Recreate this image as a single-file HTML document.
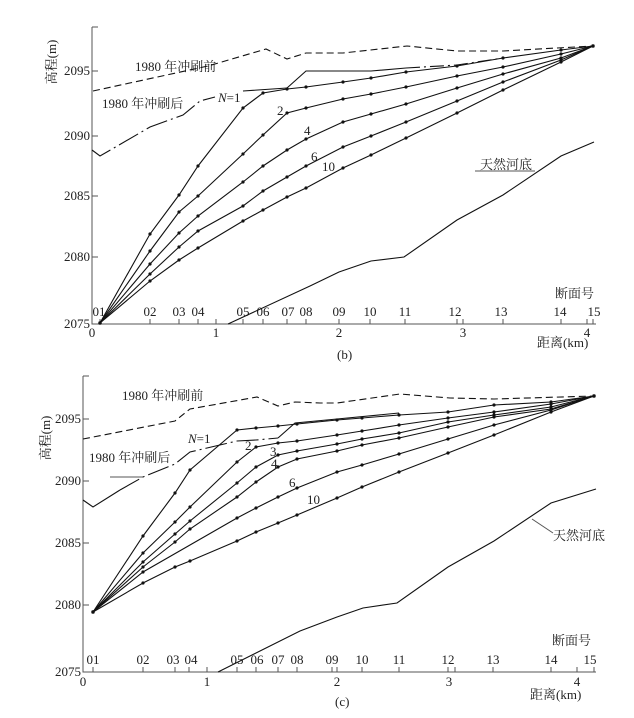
<!DOCTYPE html>
<html><head><meta charset="utf-8"><style>
html,body{margin:0;padding:0;background:#fff;}
svg{display:block;}
text{font-family:"Liberation Serif","Noto Serif CJK SC",serif;font-size:13px;fill:#222;}
.l{fill:none;stroke:#111;stroke-width:1.1;}
.d{marker-start:url(#m);marker-mid:url(#m);marker-end:url(#m);}
.ax{stroke:#555;stroke-width:1;fill:none;}
</style></head><body>
<svg width="634" height="718" viewBox="0 0 634 718" xmlns="http://www.w3.org/2000/svg">
<defs><marker id="m" markerWidth="4" markerHeight="4" refX="2" refY="2" markerUnits="userSpaceOnUse"><circle cx="2" cy="2" r="1.6" fill="#111"/></marker></defs>

<!-- ===== (b) ===== -->
<path class="ax" d="M92,27 V324 H596 M92,71 h6 M92,136 h6 M92,196 h6 M92,257 h6 M92,27 h6"/>
<path class="ax" d="M100,324v-5M150,324v-5M179,324v-5M198,324v-5M216,324v-5M243,324v-5M263,324v-5M287,324v-5M306,324v-5M339,324v-5M370,324v-5M405,324v-5M457,324v-5M463,324v-5M503,324v-5M561,324v-5M587,324v-5M593,324v-5"/>
<g text-anchor="end"><text x="90" y="75">2095</text><text x="90" y="140">2090</text><text x="90" y="200">2085</text><text x="90" y="261">2080</text><text x="90" y="328">2075</text></g>
<text x="52" y="62" transform="rotate(-90 52 62)" text-anchor="middle" dy="4">高程(m)</text>
<g text-anchor="middle"><text x="92" y="337">0</text><text x="216" y="337">1</text><text x="339" y="337">2</text><text x="463" y="337">3</text><text x="587" y="337">4</text>
<text x="99" y="316">01</text><text x="150" y="316">02</text><text x="179" y="316">03</text><text x="198" y="316">04</text><text x="243" y="316">05</text><text x="263" y="316">06</text><text x="288" y="316">07</text><text x="306" y="316">08</text><text x="339" y="316">09</text><text x="370" y="316">10</text><text x="405" y="316">11</text><text x="455" y="316">12</text><text x="501" y="316">13</text><text x="560" y="316">14</text><text x="594" y="316">15</text></g>
<text x="555" y="298">断面号</text><text x="537" y="347">距离(km)</text><text x="337" y="359">(b)</text>
<text x="135" y="71">1980 年冲刷前</text><text x="102" y="108">1980 年冲刷后</text>
<text x="218" y="102"><tspan font-style="italic">N</tspan>=1</text>
<text x="277" y="115">2</text><text x="304" y="135">4</text><text x="311" y="161">6</text><text x="322" y="171">10</text>
<text x="480" y="169">天然河底</text><path class="ax" d="M475,171H535"/>
<polyline class="l" stroke-dasharray="7,4" points="93,91 208,66 266,49 287,59 306,53 343,53 407,46 457,51 503,51 593,46"/>
<polyline class="l" stroke-dasharray="22,4,2,4" points="92,150 100,156 150,127 183,115 200,101 215,97"/>
<polyline class="l" points="243,91 287,88 306,71 371,71 406,68"/>
<polyline class="l" stroke-dasharray="14,4,2,4" points="406,68 457,65 503,58"/>
<polyline class="l d" points="100,323 150,234 179,195 198,166 243,108 263,93 287,89 306,87 343,82 371,78 406,72 457,66 503,58 561,50 593,46"/>
<polyline class="l d" points="100,323 150,251 179,212 198,196 243,154 263,135 287,113 306,108 343,99 371,94 406,87 457,76 503,67 561,54 593,46"/>
<polyline class="l d" points="100,323 150,264 179,233 198,216 243,182 263,166 287,150 306,139 343,122 371,114 406,104 457,88 503,74 561,58 593,46"/>
<polyline class="l d" points="100,323 150,274 179,247 198,231 243,206 263,191 287,177 306,166 343,147 371,136 406,122 457,101 503,82 561,60 593,46"/>
<polyline class="l d" points="100,323 150,281 179,260 198,248 243,221 263,210 287,197 306,188 343,168 371,155 406,138 457,113 503,90 561,62 593,46"/>
<polyline class="l" points="228,324 310,286 339,272 371,261 404,257 457,220 503,195 561,156 594,142"/>

<!-- ===== (c) ===== -->
<path class="ax" d="M83,376 V672 H596 M83,419 h6 M83,481 h6 M83,543 h6 M83,605 h6 M83,376 h6"/>
<path class="ax" d="M93,672v-5M143,672v-5M175,672v-5M189,672v-5M207,672v-5M237,672v-5M256,672v-5M278,672v-5M297,672v-5M332,672v-5M337,672v-5M362,672v-5M399,672v-5M448,672v-5M455,672v-5M493,672v-5M551,672v-5M577,672v-5M594,672v-5"/>
<g text-anchor="end"><text x="81" y="423">2095</text><text x="81" y="485">2090</text><text x="81" y="547">2085</text><text x="81" y="609">2080</text><text x="81" y="676">2075</text></g>
<text x="46" y="438" transform="rotate(-90 46 438)" text-anchor="middle" dy="4">高程(m)</text>
<g text-anchor="middle"><text x="83" y="686">0</text><text x="207" y="686">1</text><text x="337" y="686">2</text><text x="449" y="686">3</text><text x="577" y="686">4</text>
<text x="93" y="664">01</text><text x="143" y="664">02</text><text x="173" y="664">03</text><text x="191" y="664">04</text><text x="237" y="664">05</text><text x="257" y="664">06</text><text x="278" y="664">07</text><text x="297" y="664">08</text><text x="332" y="664">09</text><text x="362" y="664">10</text><text x="399" y="664">11</text><text x="448" y="664">12</text><text x="493" y="664">13</text><text x="551" y="664">14</text><text x="590" y="664">15</text></g>
<text x="552" y="645">断面号</text><text x="530" y="699">距离(km)</text><text x="335" y="706">(c)</text>
<text x="122" y="400">1980 年冲刷前</text><text x="89" y="462">1980 年冲刷后</text>
<text x="188" y="443"><tspan font-style="italic">N</tspan>=1</text>
<text x="245" y="450">2</text><text x="270" y="456">3</text><text x="271" y="468">4</text><text x="289" y="487">6</text><text x="307" y="504">10</text>
<text x="553" y="540">天然河底</text><path class="ax" d="M532,519L553,533"/>
<path class="ax" d="M110,477H143"/>
<polyline class="l" stroke-dasharray="7,4" points="83,439 175,421 190,409 257,397 278,406 295,402 320,403 337,403 400,394 450,398 494,399 594,396"/>
<polyline class="l" points="83,500 93,507 120,490"/>
<polyline class="l" stroke-dasharray="22,4,2,4" points="120,490 143,477 175,464 190,452 237,441 256,440 278,438"/>
<polyline class="l" points="278,438 295,423 337,419 399,413"/>
<polyline class="l d" points="93,612 143,536 175,493 190,470 237,430 256,428 278,426 297,424 337,420 362,418 399,415 448,412 494,405 551,402 594,396"/>
<polyline class="l d" points="93,612 143,553 175,522 190,507 237,462 256,447 278,443 297,441 337,435 362,431 399,425 448,418 494,412 551,404 594,396"/>
<polyline class="l d" points="93,612 143,562 175,534 190,521 237,483 256,467 278,455 297,451 337,444 362,439 399,433 448,422 494,415 551,407 594,396"/>
<polyline class="l d" points="93,612 143,567 175,542 190,529 237,497 256,482 278,467 297,459 337,451 362,445 399,438 448,427 494,417 551,409 594,396"/>
<polyline class="l d" points="93,612 143,572 237,518 256,508 278,497 297,488 337,472 362,465 399,454 448,439 494,425 551,410 594,396"/>
<polyline class="l d" points="93,612 143,583 175,567 190,561 237,541 256,532 278,523 297,515 337,498 362,487 399,472 448,453 494,435 551,412 594,396"/>
<polyline class="l" points="218,672 300,631 337,617 363,608 397,603 448,567 494,541 551,503 596,489"/>
</svg>
</body></html>
